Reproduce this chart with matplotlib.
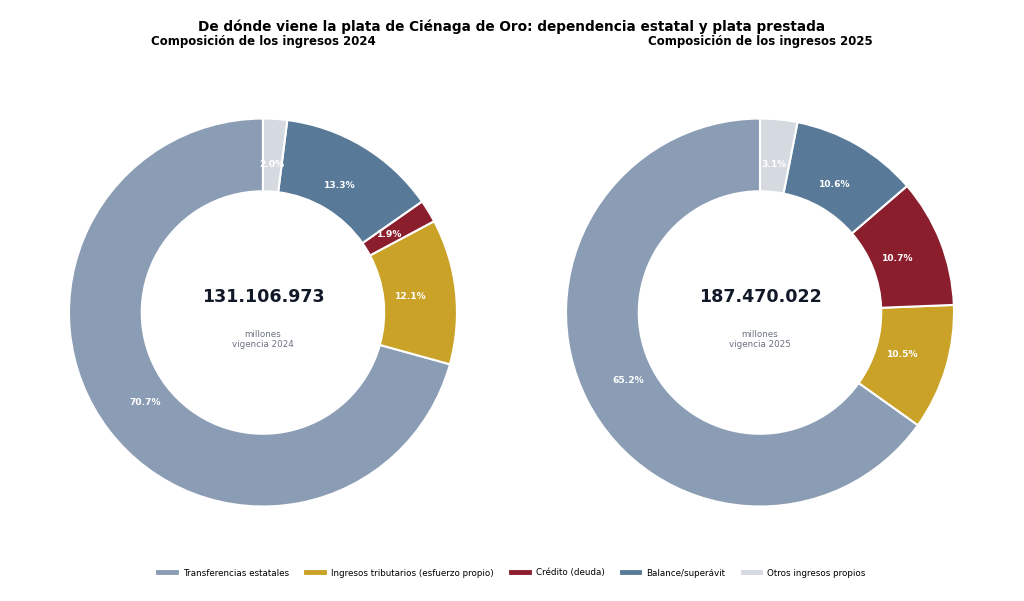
import matplotlib
matplotlib.use("Agg")
import matplotlib.pyplot as plt
import matplotlib.lines as mlines

categorias = ["Transferencias estatales", "Ingresos tributarios (esfuerzo propio)",
              "Crédito (deuda)", "Balance/superávit", "Otros ingresos propios"]
colores = ["#8b9db5", "#c9a227", "#8b1e2d", "#587a98", "#d5dae1"]

pct_2024 = [70.7, 12.1, 1.9, 13.3, 2.0]
pct_2025 = [65.2, 10.5, 10.7, 10.6, 3.1]
total_2024 = "131.106.973"
total_2025 = "187.470.022"

fig = plt.figure(figsize=(10.24, 6.01), dpi=100)

def dona(ax, valores, total, anio):
    wedges, texts, autotexts = ax.pie(
        valores, colors=colores, startangle=90, radius=1.0,
        autopct='%1.1f%%', pctdistance=0.765,
        wedgeprops=dict(width=0.375, edgecolor='white', linewidth=1.5),
        textprops=dict(color='white', fontsize=6.6, fontweight='bold'))
    # etiquetas con el valor tal cual (sin normalizar)
    for t, v in zip(autotexts, valores):
        t.set_text('%.1f%%' % v)
    ax.set_xlim(-1.25, 1.25)
    ax.set_ylim(-1.25, 1.25)
    ax.set_aspect('equal')
    ax.text(0, 0.08, total, ha='center', va='center', fontsize=12.6,
            fontweight='bold', color='#111827')
    ax.text(0, -0.14, 'millones\nvigencia %d' % anio, ha='center', va='center',
            fontsize=6.3, color='#6b7280', linespacing=1.1)

ax1 = fig.add_axes([0.0200, 0.0765, 0.4736, 0.8070])
ax2 = fig.add_axes([0.5054, 0.0765, 0.4736, 0.8070])
dona(ax1, pct_2024, total_2024, 2024)
dona(ax2, pct_2025, total_2025, 2025)

fig.text(0.5, 1 - 27 / 601, 'De dónde viene la plata de Ciénaga de Oro: dependencia estatal y plata prestada',
         ha='center', va='center', fontsize=9.8, fontweight='bold')
fig.text(263 / 1024, 1 - 41 / 601, 'Composición de los ingresos 2024',
         ha='center', va='center', fontsize=8.5, fontweight='bold')
fig.text(760 / 1024, 1 - 41 / 601, 'Composición de los ingresos 2025',
         ha='center', va='center', fontsize=8.5, fontweight='bold')

handles = [mlines.Line2D([], [], color=c, linewidth=3.5, label=l)
           for c, l in zip(colores, categorias)]
fig.legend(handles=handles, loc='center', bbox_to_anchor=(0.5, 1 - 573 / 601),
           ncol=5, frameon=False, fontsize=6.3, handlelength=2.0, columnspacing=2.0)

fig.savefig('out.png', dpi=100)
